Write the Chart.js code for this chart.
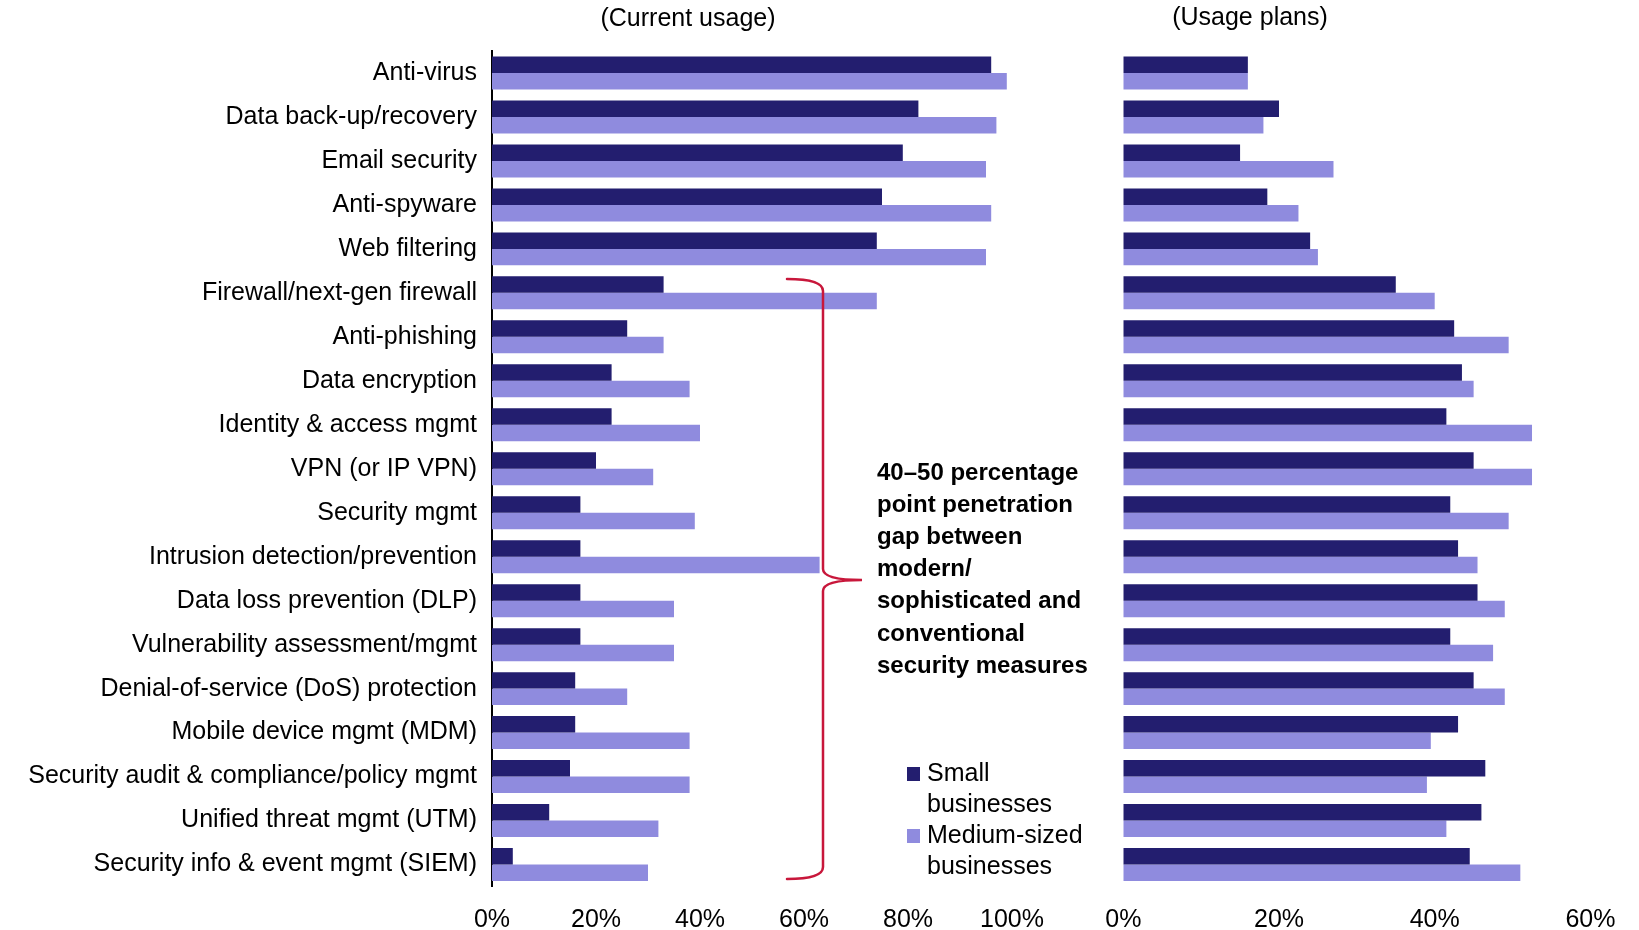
<!DOCTYPE html>
<html>
<head>
<meta charset="utf-8">
<script src="https://cdn.jsdelivr.net/npm/chart.js@4.4.1/dist/chart.umd.min.js"></script>
<style>
  html, body { margin: 0; padding: 0; background: #ffffff; }
  #wrap { position: relative; width: 1639px; height: 930px; }
  #wrap canvas { position: absolute; left: 0; top: 0; }
</style>
</head>
<body>
<div id="wrap">
  <canvas id="current" width="1639" height="930"></canvas>
  <canvas id="plans" width="1639" height="930"></canvas>
</div>
<script>
// Security product categories, top to bottom
const categories = [
  'Anti-virus', 'Data back-up/recovery', 'Email security', 'Anti-spyware', 'Web filtering',
  'Firewall/next-gen firewall', 'Anti-phishing', 'Data encryption', 'Identity & access mgmt',
  'VPN (or IP VPN)', 'Security mgmt', 'Intrusion detection/prevention', 'Data loss prevention (DLP)',
  'Vulnerability assessment/mgmt', 'Denial-of-service (DoS) protection', 'Mobile device mgmt (MDM)',
  'Security audit & compliance/policy mgmt', 'Unified threat mgmt (UTM)', 'Security info & event mgmt (SIEM)'
];

// Current usage (%)
const currentSmall  = [96, 82, 79, 75, 74, 33, 26, 23, 23, 20, 17, 17, 17, 17, 16, 16, 15, 11, 4];
const currentMedium = [99, 97, 95, 96, 95, 74, 33, 38, 40, 31, 39, 63, 35, 35, 26, 38, 38, 32, 30];

// Usage plans (%)
const plansSmall  = [16, 20, 15, 18.5, 24, 35, 42.5, 43.5, 41.5, 45, 42, 43, 45.5, 42, 45, 43, 46.5, 46, 44.5];
const plansMedium = [16, 18, 27, 22.5, 25, 40, 49.5, 45, 52.5, 52.5, 49.5, 45.5, 49, 47.5, 49, 39.5, 39, 41.5, 51];

// Axis tick values (%)
const currentTicks = [0, 20, 40, 60, 80, 100];
const planTicks = [0, 20, 40, 60];

const seriesNames = ['Small businesses', 'Medium-sized businesses'];
const panelTitles = ['(Current usage)', '(Usage plans)'];
const noteLines = [
  '40\u201350 percentage', 'point penetration', 'gap between', 'modern/',
  'sophisticated and', 'conventional', 'security measures'
];

const DARK = '#231e6f';
const LIGHT = '#8f8bde';
const BRACE = '#c8173b';
const FONT = "'Liberation Sans', Arial, sans-serif";

Chart.defaults.font.family = FONT;
Chart.defaults.color = '#000000';

function datasets(small, medium) {
  return [
    { label: seriesNames[0], data: small, backgroundColor: DARK, categoryPercentage: 0.75, barPercentage: 1.0 },
    { label: seriesNames[1], data: medium, backgroundColor: LIGHT, categoryPercentage: 0.75, barPercentage: 1.0 }
  ];
}

// Titles, bracket note and legend drawn over the left panel's canvas
const overlay = {
  id: 'overlay',
  afterDraw(chart) {
    const ctx = chart.ctx;
    ctx.save();

    // panel titles
    ctx.fillStyle = '#000';
    ctx.font = '25px ' + FONT;
    ctx.textAlign = 'center';
    ctx.textBaseline = 'middle';
    ctx.fillText(panelTitles[0], 688, 19);
    ctx.fillText(panelTitles[1], 1250, 18);

    // curly bracket
    ctx.strokeStyle = BRACE;
    ctx.lineWidth = 2.5;
    ctx.lineCap = 'round';
    ctx.beginPath();
    ctx.moveTo(787, 279);
    ctx.quadraticCurveTo(823, 279, 823, 291);
    ctx.lineTo(823, 569);
    ctx.quadraticCurveTo(823, 580, 862, 580);
    ctx.quadraticCurveTo(823, 580, 823, 591);
    ctx.lineTo(823, 867);
    ctx.quadraticCurveTo(823, 879, 787, 879);
    ctx.stroke();

    // note text
    ctx.fillStyle = '#000';
    ctx.font = 'bold 24px ' + FONT;
    ctx.textAlign = 'left';
    noteLines.forEach((line, i) => ctx.fillText(line, 877, 473 + i * 32.2));

    // legend
    ctx.font = '25px ' + FONT;
    const colors = [DARK, LIGHT];
    seriesNames.forEach((name, i) => {
      const y0 = 774 + i * 62;
      ctx.fillStyle = colors[i];
      ctx.fillRect(907, y0 - 7, 13, 14);
      ctx.fillStyle = '#000';
      const cut = name.indexOf(' ');
      ctx.fillText(name.slice(0, cut), 927, y0);
      ctx.fillText(name.slice(cut + 1), 927, y0 + 31);
    });
    ctx.restore();
  }
};

function pct(v) { return v + '%'; }

new Chart(document.getElementById('current'), {
  type: 'bar',
  data: { labels: categories, datasets: datasets(currentSmall, currentMedium) },
  options: {
    indexAxis: 'y',
    responsive: false,
    animation: false,
    layout: { padding: { left: 0, top: 51, right: 627, bottom: 0 } },
    plugins: { legend: { display: false }, tooltip: { enabled: false } },
    scales: {
      x: {
        min: 0, max: 100,
        afterBuildTicks: s => { s.ticks = currentTicks.map(v => ({ value: v })); },
        afterFit: s => { s.height = 43.5; },
        grid: { display: false, drawTicks: false },
        border: { display: false },
        ticks: { padding: 19, font: { size: 25 }, callback: pct }
      },
      y: {
        afterFit: s => { s.width = 492; },
        grid: { display: false, drawTicks: false },
        border: { display: true, color: '#000', width: 2 },
        ticks: { padding: 15, font: { size: 25 }, autoSkip: false }
      }
    }
  },
  plugins: [overlay]
});

new Chart(document.getElementById('plans'), {
  type: 'bar',
  data: { labels: categories, datasets: datasets(plansSmall, plansMedium) },
  options: {
    indexAxis: 'y',
    responsive: false,
    animation: false,
    layout: { padding: { left: 0, top: 51, right: 48.6, bottom: 0 } },
    plugins: { legend: { display: false }, tooltip: { enabled: false } },
    scales: {
      x: {
        min: 0, max: 60,
        afterBuildTicks: s => { s.ticks = planTicks.map(v => ({ value: v })); },
        afterFit: s => { s.height = 43.5; },
        grid: { display: false, drawTicks: false },
        border: { display: false },
        ticks: { padding: 19, font: { size: 25 }, callback: pct }
      },
      y: {
        afterFit: s => { s.width = 1123.3; },
        grid: { display: false, drawTicks: false },
        border: { display: false },
        ticks: { display: false }
      }
    }
  }
});
</script>
</body>
</html>
